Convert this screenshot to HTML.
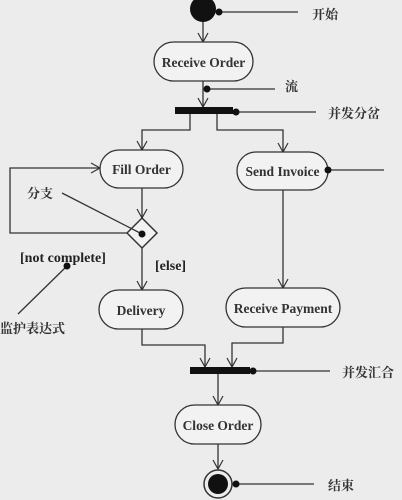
<!DOCTYPE html>
<html><head><meta charset="utf-8"><style>
body{margin:0;background:#ececec}
svg{display:block}
text{font-family:"Liberation Serif","Noto Serif CJK SC",serif;font-size:14px;fill:#222}
.n{font-weight:bold;fill:#333;font-size:13.5px}
.c{font-family:"Liberation Serif","Noto Serif CJK SC",serif;font-size:13px;font-weight:bold;fill:#333}
</style></head><body>
<svg width="402" height="500" viewBox="0 0 402 500">
<defs><marker id="a" markerWidth="12" markerHeight="12" refX="10" refY="6" orient="auto" markerUnits="userSpaceOnUse"><path d="M1,1 L10,6 L1,11" fill="none" stroke="#333" stroke-width="1.2"/></marker></defs>
<g stroke="#333" stroke-width="1.3" fill="none">
<line x1="203" y1="21" x2="203" y2="42" marker-end="url(#a)"/>
<line x1="203" y1="81" x2="203" y2="107" marker-end="url(#a)"/>
<polyline points="190,114 190,130 142,130 142,150" marker-end="url(#a)"/>
<polyline points="217,114 217,130 283,130 283,152" marker-end="url(#a)"/>
<line x1="142" y1="188" x2="142" y2="218" marker-end="url(#a)"/>
<polyline points="127,233 10,233 10,168 100,168" marker-end="url(#a)"/>
<line x1="142" y1="248" x2="142" y2="290" marker-end="url(#a)"/>
<line x1="283" y1="190" x2="283" y2="288" marker-end="url(#a)"/>
<polyline points="142,329 142,345 205,345 205,367" marker-end="url(#a)"/>
<polyline points="283,327 283,343 232,343 232,367" marker-end="url(#a)"/>
<line x1="218" y1="374" x2="218" y2="405" marker-end="url(#a)"/>
<line x1="218" y1="444" x2="218" y2="469" marker-end="url(#a)"/>
<rect x="154" y="42" width="99" height="39" rx="19.5" fill="#f2f2f2"/>
<rect x="100" y="150" width="83" height="38" rx="19" fill="#f2f2f2"/>
<rect x="237" y="152" width="91" height="38" rx="19" fill="#f2f2f2"/>
<rect x="99" y="290" width="84" height="39" rx="19.5" fill="#f2f2f2"/>
<rect x="226" y="288" width="114" height="39" rx="19.5" fill="#f2f2f2"/>
<rect x="175" y="405" width="86" height="39" rx="19.5" fill="#f2f2f2"/>
<polygon points="142,218 157,233 142,248 127,233" fill="#f2f2f2" stroke-width="1.5"/>
<circle cx="218" cy="484" r="14" stroke-width="1.5"/>
<line x1="219" y1="12" x2="298" y2="12"/>
<line x1="207" y1="89" x2="275" y2="89"/>
<line x1="236" y1="112" x2="316" y2="112"/>
<line x1="328" y1="170" x2="384" y2="170"/>
<line x1="62" y1="193" x2="142" y2="234"/>
<line x1="67" y1="266" x2="18" y2="314"/>
<line x1="253" y1="371" x2="330" y2="371"/>
<line x1="236" y1="484" x2="314" y2="484"/>
</g>
<g fill="#111">
<circle cx="203" cy="9" r="13"/>
<circle cx="218" cy="484" r="10"/>
<rect x="175" y="107" width="58" height="7"/>
<rect x="190" y="367" width="60" height="7"/>
<circle cx="219" cy="12" r="3.5"/><circle cx="207" cy="89" r="3.5"/><circle cx="236" cy="112" r="3.5"/>
<circle cx="328" cy="170" r="3.5"/><circle cx="142" cy="234" r="3.5"/><circle cx="67" cy="266" r="3.5"/>
<circle cx="253" cy="371" r="3.5"/><circle cx="236" cy="484" r="3.5"/>
</g>
<g text-anchor="middle" class="n">
<text class="n" x="203.5" y="67">Receive Order</text>
<text class="n" x="141.5" y="174">Fill Order</text>
<text class="n" x="282.5" y="176">Send Invoice</text>
<text class="n" x="141" y="315">Delivery</text>
<text class="n" x="283" y="313">Receive Payment</text>
<text class="n" x="218" y="430">Close Order</text>
</g>
<text x="20" y="262" font-size="13" font-weight="bold">[not complete]</text>
<text x="155" y="270" font-size="13" font-weight="bold">[else]</text>
<text class="c" x="312" y="19">开始</text>
<text class="c" x="285" y="91">流</text>
<text class="c" x="328" y="118">并发分岔</text>
<text class="c" x="27" y="198">分支</text>
<text class="c" x="0" y="333">监护表达式</text>
<text class="c" x="342" y="377">并发汇合</text>
<text class="c" x="328" y="490">结束</text>
</svg>
</body></html>
